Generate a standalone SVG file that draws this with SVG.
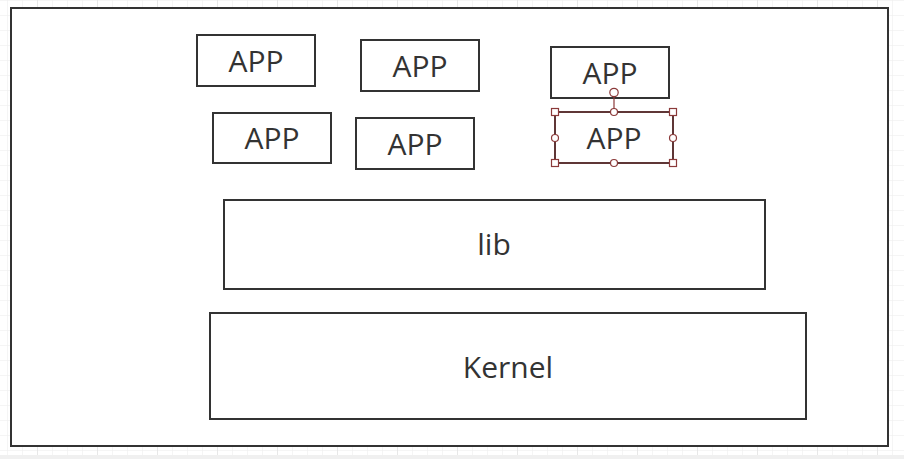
<svg xmlns="http://www.w3.org/2000/svg" width="904" height="459" viewBox="0 0 904 459">
<defs>
<pattern id="g" x="7" y="0" width="15" height="15" patternUnits="userSpaceOnUse"><path d="M0 0V15M0 0H15" stroke="#ececec" stroke-width="1" fill="none"/></pattern>
<pattern id="G" x="37" y="0" width="60" height="60" patternUnits="userSpaceOnUse"><path d="M0 0V60" stroke="#dcdcdc" stroke-width="1" fill="none"/></pattern>
</defs>
<style>
.box{fill:#fff;stroke:#333;stroke-width:2}
.t{font-family:"Open Sans","Noto Sans",sans-serif;font-size:30px;fill:#333;text-anchor:middle}
.h{fill:#fff;stroke:#8b3a3a;stroke-width:1.2}
</style>
<rect width="904" height="459" fill="#fff"/>
<rect width="904" height="455" fill="url(#g)"/>
<rect width="904" height="455" fill="url(#G)"/>
<rect y="455" width="904" height="4" fill="#f0f0f0"/>
<g id="outer"><rect class="box" x="11" y="8" width="877" height="438"/></g>
<g id="app1"><rect class="box" x="197" y="35" width="118" height="51"/><text class="t" x="256" y="72">APP</text></g>
<g id="app2"><rect class="box" x="361" y="40" width="118" height="51"/><text class="t" x="420" y="77">APP</text></g>
<g id="app3"><rect class="box" x="551" y="47" width="118" height="51"/><text class="t" x="610" y="84">APP</text></g>
<g id="app4"><rect class="box" x="213" y="113" width="118" height="50"/><text class="t" x="272" y="149">APP</text></g>
<g id="app5"><rect class="box" x="356" y="118" width="118" height="51"/><text class="t" x="415" y="155">APP</text></g>
<g id="app6"><rect class="box" x="555" y="112" width="118" height="51"/><text class="t" x="614" y="149">APP</text>
<rect x="555" y="112" width="118" height="51" fill="none" stroke="#8b3a3a" stroke-width="1"/>
<line x1="614" y1="96" x2="614" y2="112" stroke="#8b3a3a" stroke-width="1.2"/>
<circle class="h" cx="614" cy="92.5" r="4.2"/>
<rect class="h" x="551.5" y="108.5" width="7" height="7"/>
<rect class="h" x="669.5" y="108.5" width="7" height="7"/>
<rect class="h" x="551.5" y="159.5" width="7" height="7"/>
<rect class="h" x="669.5" y="159.5" width="7" height="7"/>
<circle class="h" cx="614" cy="112" r="3.5"/>
<circle class="h" cx="614" cy="163" r="3.5"/>
<circle class="h" cx="555" cy="138" r="3.5"/>
<circle class="h" cx="673" cy="138" r="3.5"/>
</g>
<g id="lib"><rect class="box" x="224" y="200" width="541" height="89"/><text class="t" x="494" y="255">lib</text></g>
<g id="kernel"><rect class="box" x="210" y="313" width="596" height="106"/><text class="t" x="508" y="378">Kernel</text></g>
<g id="connectors"></g>
</svg>
